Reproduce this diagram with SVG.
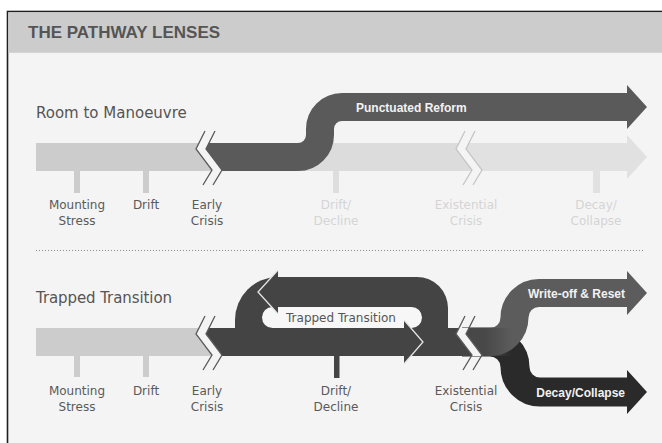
<svg xmlns="http://www.w3.org/2000/svg" width="662" height="443" viewBox="0 0 662 443">
  <defs>
    <style>
      .lane { font-family: "DejaVu Sans", sans-serif; font-size: 15px; fill: #555; }
      .lbl { font-family: "DejaVu Sans", sans-serif; font-size: 12px; fill: #5a5a5a; text-anchor: middle; }
      .fade { fill: #d4d4d4; }
      .albl { font-family: "Liberation Sans", Arial, sans-serif; font-weight: bold; font-size: 12px; fill: #f2f2f2; }
      .brk { fill: none; stroke: #5a5a5a; stroke-width: 1.3; }
      .brkf { fill: none; stroke: #c6c6c6; stroke-width: 1.3; }
      .hl { fill: none; stroke: #e6e6e6; stroke-width: 1.3; stroke-linejoin: miter; }
    </style>
    <linearGradient id="stemG" x1="462" y1="0" x2="512" y2="0" gradientUnits="userSpaceOnUse">
      <stop offset="0.45" stop-color="#484848" stop-opacity="1"/>
      <stop offset="1" stop-color="#484848" stop-opacity="0"/>
    </linearGradient>
  </defs>

  <!-- frame -->
  <g id="frame">
    <rect x="0" y="0" width="662" height="443" fill="#ffffff"/>
    <rect x="7.5" y="11.5" width="700" height="500" fill="#f4f4f4" stroke="#1e1e1e" stroke-width="1.6"/>
    <rect x="8.3" y="12.3" width="660" height="40.5" fill="#cccccc"/>
    <text x="28" y="38.3" font-family="Liberation Sans, Arial, sans-serif" font-weight="bold" font-size="17" fill="#555">THE PATHWAY LENSES</text>
    <line x1="36" y1="250.5" x2="645" y2="250.5" stroke="#8a8a8a" stroke-width="1" stroke-dasharray="1 2"/>
  </g>

  <!-- ROW 1: Room to Manoeuvre -->
  <g id="row1">
    <text class="lane" x="36" y="118">Room to Manoeuvre</text>

    <!-- faded mid segment and faded end arrow -->
    <polygon points="209,143 459,143 456,149 472,170 471.4,171 221.4,171 222,170 206,149" fill="#dcdcdc"/>
    <polygon points="469,143 627,143 627,135 647,157 627,179 627,171 481.4,171 482,170 466,149" fill="#e1e1e1"/>

    <!-- ticks -->
    <rect x="74" y="171" width="6" height="22" fill="#cccccc"/>
    <rect x="143" y="171" width="6" height="22" fill="#cccccc"/>
    <rect x="333" y="171" width="6" height="22" fill="#dedede"/>
    <rect x="593" y="171" width="7" height="22" fill="#e1e1e1"/>

    <!-- Punctuated Reform arrow -->
    <g id="punctuated-reform">
      <path d="M200 157 H298 A22 22 0 0 0 320 135 V129 A22 22 0 0 1 342 107 H628" fill="none" stroke="#5a5a5a" stroke-width="28"/>
      <polygon points="627,85 647,107 627,129" fill="#5a5a5a"/>
      <text class="albl" x="356" y="112">Punctuated Reform</text>
    </g>

    <!-- break gap + left light bar -->
    <polygon points="199,143 209,143 206,149 222,170 221.4,171 211.4,171 212,170 196,149" fill="#f4f4f4"/>
    <polygon points="36,143 199,143 196,149 212,170 211.4,171 36,171" fill="#cccccc"/>

    <polyline class="brk" points="205,131 196,149 212,170 203,185"/>
    <polyline class="brk" points="215,131 206,149 222,170 213,185"/>
    <polyline class="brkf" points="465,131 456,149 472,170 463,185"/>
    <polyline class="brkf" points="475,131 466,149 482,170 473,185"/>

    <text class="lbl" x="77" y="209">Mounting</text>
    <text class="lbl" x="77" y="225">Stress</text>
    <text class="lbl" x="146" y="209">Drift</text>
    <text class="lbl" x="207" y="209">Early</text>
    <text class="lbl" x="207" y="225">Crisis</text>
    <text class="lbl fade" x="336" y="209">Drift/</text>
    <text class="lbl fade" x="336" y="225">Decline</text>
    <text class="lbl fade" x="466" y="209">Existential</text>
    <text class="lbl fade" x="466" y="225">Crisis</text>
    <text class="lbl fade" x="596" y="209">Decay/</text>
    <text class="lbl fade" x="596" y="225">Collapse</text>
  </g>

  <!-- ROW 2: Trapped Transition -->
  <g id="row2">
    <text class="lane" x="36" y="303" textLength="136">Trapped Transition</text>

    <!-- branches after existential crisis -->
    <g id="decay-collapse">
      <path d="M462 342 H490 A25 25 0 0 1 515 367 A25 25 0 0 0 540 392 H628" fill="none" stroke="#2a2a2a" stroke-width="29"/>
      <polygon points="627,370 647,392 627,414" fill="#2a2a2a"/>
      <text class="albl" x="625" y="396.5" text-anchor="end" font-size="12.5">Decay/Collapse</text>
    </g>
    <g id="write-off-reset">
      <path d="M462 342 H490 A24.5 24.5 0 0 0 514.5 317.5 A24.5 24.5 0 0 1 539 293 H628" fill="none" stroke="#5c5c5c" stroke-width="28"/>
      <polygon points="627,271 647,293 627,315" fill="#5c5c5c"/>
      <text class="albl" x="625" y="297.5" text-anchor="end">Write-off &amp; Reset</text>
    </g>
    <rect x="462" y="328" width="50" height="28" fill="url(#stemG)"/>

    <!-- light left bar -->
    <polygon points="36,328 199,328 196,334 212,355 211.4,356 36,356" fill="#cccccc"/>
    <rect x="74" y="356" width="6" height="21" fill="#cccccc"/>
    <rect x="143" y="356" width="6" height="21" fill="#cccccc"/>

    <!-- trapped loop -->
    <g id="trapped-transition">
      <polygon points="209,328 459,328 456,334 472,355 471.4,356 221.4,356 222,355 206,334" fill="#444444"/>
      <path d="M235 356 V320 A43 43 0 0 1 278 277 H417 A31 31 0 0 1 448 308 V356 Z" fill="#444444"/>
      <rect x="262" y="307" width="160" height="21" rx="10.5" fill="#f7f7f7"/>
      <text x="341" y="322" font-family="DejaVu Sans, sans-serif" font-size="12" fill="#555" text-anchor="middle">Trapped Transition</text>
      <polygon points="278,270 258,292 278,314" fill="#444444"/>
      <polyline class="hl" points="278,270 258,292 278,314"/>
      <polygon points="404,320 423,342 404,364" fill="#444444"/>
      <polyline class="hl" points="404,320 423,342 404,364"/>
      <rect x="334" y="356" width="5.5" height="22" fill="#444444"/>
    </g>

    <!-- gap at existential crisis break -->
    <polygon points="459,328 469,328 466,334 482,355 481.4,356 471.4,356 472,355 456,334" fill="#f4f4f4"/>

    <polyline class="brk" points="205,316 196,334 212,355 203,370"/>
    <polyline class="brk" points="215,316 206,334 222,355 213,370"/>
    <polyline class="brk" points="465,316 456,334 472,355 463,370"/>
    <polyline class="brk" points="475,316 466,334 482,355 473,370"/>

    <text class="lbl" x="77" y="395">Mounting</text>
    <text class="lbl" x="77" y="411">Stress</text>
    <text class="lbl" x="146" y="395">Drift</text>
    <text class="lbl" x="207" y="395">Early</text>
    <text class="lbl" x="207" y="411">Crisis</text>
    <text class="lbl" x="336" y="395">Drift/</text>
    <text class="lbl" x="336" y="411">Decline</text>
    <text class="lbl" x="466" y="395">Existential</text>
    <text class="lbl" x="466" y="411">Crisis</text>
  </g>
</svg>
